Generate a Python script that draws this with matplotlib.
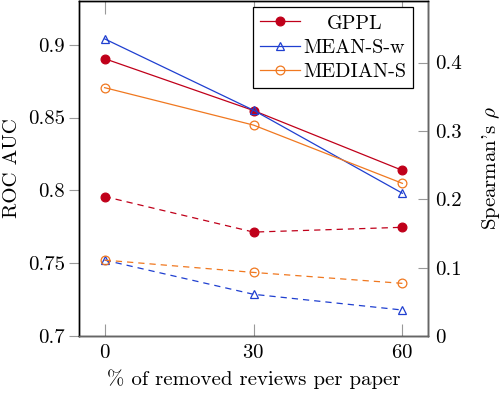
import numpy as np
import matplotlib
matplotlib.use("Agg")
import matplotlib.pyplot as plt

plt.rcParams["font.family"] = "serif"
plt.rcParams["font.serif"] = ["cmr10", "DejaVu Serif"]
plt.rcParams["mathtext.fontset"] = "cm"
plt.rcParams["axes.formatter.use_mathtext"] = True

removed = [0, 30, 60]
xticks = [0, 30, 60]

# ROC AUC (left axis, solid)
auc_gppl = [0.8904, 0.8548, 0.8137]
auc_mean = [0.9040, 0.8550, 0.7980]
auc_median = [0.8705, 0.8448, 0.8048]

# Spearman's rho (right axis, dashed)
rho_gppl = [0.204, 0.152, 0.159]
rho_mean = [0.111, 0.061, 0.038]
rho_median = [0.111, 0.093, 0.077]

labels = ["GPPL", "MEAN-S-w", "MEDIAN-S"]
colors = ["#C0001A", "#1F3FD0", "#F07820"]
markers = ["o", "^", "o"]
filled = [True, False, False]

fig = plt.figure(figsize=(5.02, 3.96), dpi=100)
ax = fig.add_axes([0.157, 0.1515, 0.696, 0.846])
ax2 = ax.twinx()


def line_kw(col, mk, fill):
    kw = dict(color=col, lw=0.9, marker=mk, ms=6.3 if mk == "o" else 6, mew=0.9)
    if not fill:
        kw["mfc"] = "none"
    return kw


handles = []
for auc, lab, col, mk, fl in zip([auc_gppl, auc_mean, auc_median], labels, colors, markers, filled):
    h, = ax.plot(removed, auc, "-", label=lab, **line_kw(col, mk, fl))
    handles.append(h)

for rho, col, mk, fl in zip([rho_gppl, rho_mean, rho_median], colors, markers, filled):
    ax2.plot(removed, rho, dashes=(5, 4), **line_kw(col, mk, fl))

ax.set_xlim(-5.2, 65.2)
ax.set_ylim(0.7, 0.93)
ax2.set_ylim(0, 0.49)
ax.set_xticks(xticks)
ax.set_yticks([0.7, 0.75, 0.8, 0.85, 0.9])
ax.set_yticklabels(["0.7", "0.75", "0.8", "0.85", "0.9"])
ax2.set_yticks([0, 0.1, 0.2, 0.3, 0.4])
ax2.set_yticklabels(["0", "0.1", "0.2", "0.3", "0.4"])

fs = 15
ax.tick_params(axis="y", direction="out", length=7, color="#999999", labelsize=fs, pad=3)
ax.tick_params(axis="x", direction="in", length=9, color="#999999", labelsize=fs, top=True, pad=6)
ax2.tick_params(axis="y", direction="in", length=7, color="#999999", labelsize=fs, pad=5)

for a in (ax, ax2):
    for s in a.spines.values():
        s.set_linewidth(1.0)
ax2.spines["bottom"].set_color("#666666")
ax2.spines["right"].set_color("#666666")

ax.set_ylabel("ROC AUC", fontsize=fs, labelpad=5)
ax2.set_ylabel(r"Spearman's $\rho$", fontsize=fs, labelpad=13)
ax.set_xlabel("% of removed reviews per paper", fontsize=fs, labelpad=5)

leg = ax2.legend(handles, labels, loc="upper right", bbox_to_anchor=(0.968, 0.993),
                 fontsize=14.5, frameon=True, fancybox=False, edgecolor="black",
                 framealpha=1, handlelength=2.0, borderpad=0.35, labelspacing=0.3,
                 handletextpad=0.15, borderaxespad=0.2)
leg.get_frame().set_linewidth(0.9)

# centre the legend labels like pgfplots does
fig.canvas.draw()
texts = leg.get_texts()
widths = [t.get_window_extent().width for t in texts]
wmax = max(widths)
for t, w in zip(texts, widths):
    t.set_position(((wmax - w) / 2, 0))

fig.savefig("out.png", dpi=100)
